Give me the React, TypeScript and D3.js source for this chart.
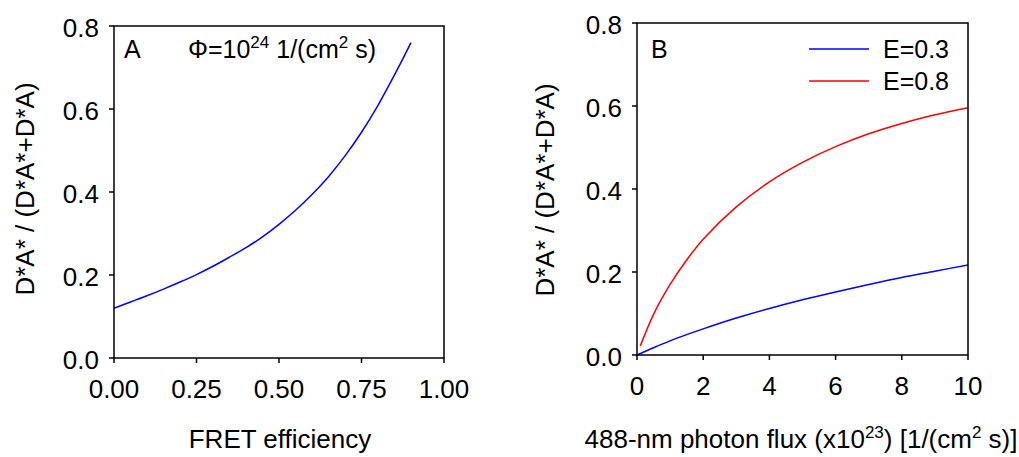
import React from "react";
import * as d3 from "d3";

// Panel A: fraction vs FRET efficiency (Φ = 1e24)
const fretE = [0, 0.05, 0.1, 0.15, 0.2, 0.25, 0.3, 0.35, 0.4, 0.45, 0.5, 0.55, 0.6, 0.65, 0.7, 0.75, 0.8, 0.85, 0.9];
const fracA = [0.12, 0.135, 0.15, 0.166, 0.183, 0.201, 0.221, 0.243, 0.266, 0.292, 0.322, 0.356, 0.394, 0.437, 0.487, 0.544, 0.609, 0.682, 0.76];

// Panel B: fraction vs photon flux (x1e23)
const fluxB = [0, 0.5, 1, 1.5, 2, 3, 4, 5, 6, 7, 8, 9, 10];
const fracE03 = [0, 0.0175, 0.034, 0.049, 0.063, 0.089, 0.112, 0.133, 0.152, 0.17, 0.187, 0.202, 0.217];
const fluxRed = [0.1, 0.5, 1, 1.5, 2, 3, 4, 5, 6, 7, 8, 9, 10];
const fracE08 = [0.022, 0.098, 0.17, 0.229, 0.279, 0.357, 0.417, 0.464, 0.502, 0.533, 0.558, 0.579, 0.596];

const yTicks = [0, 0.2, 0.4, 0.6, 0.8];
const xTicksA = [0, 0.25, 0.5, 0.75, 1.0];
const xTicksB = [0, 2, 4, 6, 8, 10];
const legendLabels = ["E=0.3", "E=0.8"];
const seriesColors = ["#0000ff", "#ff0000"];

const FONT = "'Liberation Sans', Arial, sans-serif";
const TICK_FS = 26;
const LABEL_FS = 26;

function Axes({ x, y, xTicks, xFmt }: any) {
  const [x0, x1] = x.range();
  const [y0, y1] = y.range();
  return (
    <g>
      <rect x={x0} y={y1} width={x1 - x0} height={y0 - y1} fill="none" stroke="#000" strokeWidth={1.5} />
      {yTicks.map((t) => (
        <g key={"y" + t}>
          <line x1={x0 - 5} x2={x0} y1={y(t)} y2={y(t)} stroke="#000" strokeWidth={1.5} />
          <text x={x0 - 15} y={y(t) + 11} textAnchor="end" fontSize={TICK_FS} fontFamily={FONT}>
            {d3.format(".1f")(t)}
          </text>
        </g>
      ))}
      {xTicks.map((t: number) => (
        <g key={"x" + t}>
          <line x1={x(t)} x2={x(t)} y1={y0} y2={y0 + 5} stroke="#000" strokeWidth={1.5} />
          <text x={x(t)} y={y0 + 40} textAnchor="middle" fontSize={TICK_FS} fontFamily={FONT}>
            {xFmt(t)}
          </text>
        </g>
      ))}
    </g>
  );
}

export default function App() {
  const xA = d3.scaleLinear().domain([0, 1]).range([114, 444]);
  const yA = d3.scaleLinear().domain([0, 0.8]).range([358, 26]);
  const xB = d3.scaleLinear().domain([0, 10]).range([637, 968]);
  const yB = d3.scaleLinear().domain([0, 0.8]).range([355, 23]);

  const lineA = d3
    .line<number>()
    .x((_, i) => xA(fretE[i]))
    .y((d) => yA(d))
    .curve(d3.curveCatmullRom);
  const lineB03 = d3
    .line<number>()
    .x((_, i) => xB(fluxB[i]))
    .y((d) => yB(d))
    .curve(d3.curveCatmullRom);
  const lineB08 = d3
    .line<number>()
    .x((_, i) => xB(fluxRed[i]))
    .y((d) => yB(d))
    .curve(d3.curveCatmullRom);

  const yLabel = "D*A* / (D*A*+D*A)";

  return (
    <svg
      width={1019}
      height={457}
      style={{ position: "absolute", left: 0, top: 0, background: "#fff" }}
      fontFamily={FONT}
    >
      <rect x={0} y={0} width={1019} height={457} fill="#fff" />
      {/* Panel A */}
      <path d={lineA(fracA) || ""} fill="none" stroke={seriesColors[0]} strokeWidth={1.5} />
      <Axes x={xA} y={yA} xTicks={xTicksA} xFmt={d3.format(".2f")} />
      <text x={124} y={58} fontSize={25}>A</text>
      <text x={188} y={58} fontSize={25}>
        Φ=10<tspan dy={-10} fontSize={17}>24</tspan>
        <tspan dy={10}> 1/(cm</tspan>
        <tspan dy={-10} fontSize={17}>2</tspan>
        <tspan dy={10}> s)</tspan>
      </text>
      <text x={280} y={448} textAnchor="middle" fontSize={LABEL_FS}>FRET efficiency</text>
      <text transform={`translate(34,${189}) rotate(-90)`} textAnchor="middle" fontSize={LABEL_FS}>
        {yLabel}
      </text>

      {/* Panel B */}
      <path d={lineB03(fracE03) || ""} fill="none" stroke={seriesColors[0]} strokeWidth={1.5} />
      <path d={lineB08(fracE08) || ""} fill="none" stroke={seriesColors[1]} strokeWidth={1.5} />
      <Axes x={xB} y={yB} xTicks={xTicksB} xFmt={d3.format("d")} />
      <text x={651} y={58} fontSize={25}>B</text>
      {legendLabels.map((lab, i) => (
        <g key={lab}>
          <line x1={809} x2={869} y1={49 + i * 32} y2={49 + i * 32} stroke={seriesColors[i]} strokeWidth={1.5} />
          <text x={883} y={58 + i * 32} fontSize={25}>{lab}</text>
        </g>
      ))}
      <text x={801} y={448} textAnchor="middle" fontSize={LABEL_FS}>
        488-nm photon flux (x10<tspan dy={-10} fontSize={17}>23</tspan>
        <tspan dy={10}>) [1/(cm</tspan>
        <tspan dy={-10} fontSize={17}>2</tspan>
        <tspan dy={10}> s)]</tspan>
      </text>
      <text transform={`translate(554,${190}) rotate(-90)`} textAnchor="middle" fontSize={LABEL_FS}>
        {yLabel}
      </text>
    </svg>
  );
}
